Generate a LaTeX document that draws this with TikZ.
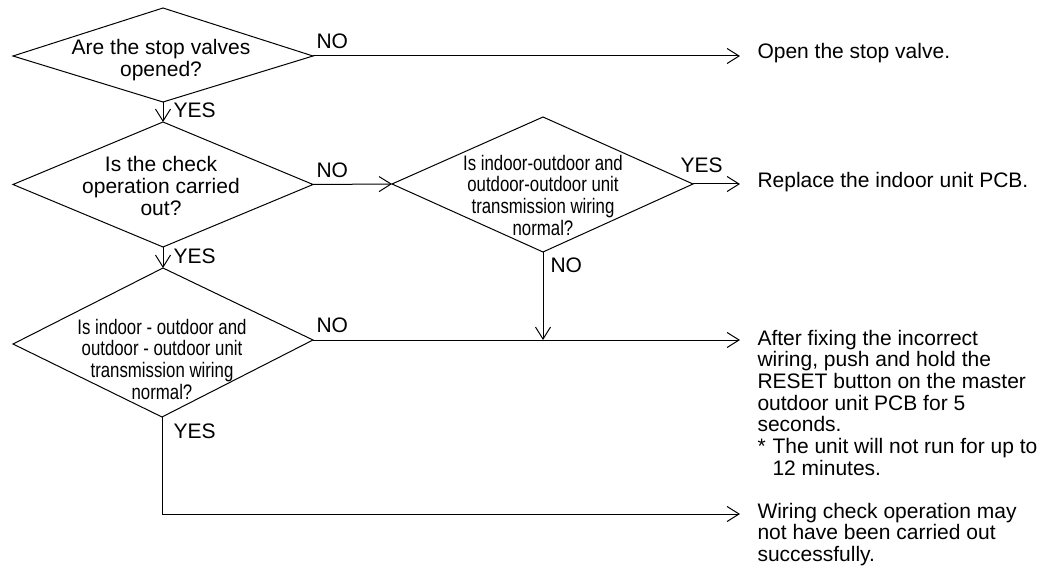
\documentclass[tikz,border=0pt]{standalone}
\usepackage{fontspec}
\setmainfont{Liberation Sans}
\newfontfamily\condfont[FakeStretch=0.8]{Liberation Sans}
\usetikzlibrary{arrows.meta}
\begin{document}
\begin{tikzpicture}[x=1pt,y=-1pt,line width=1pt,line join=miter,
  arr/.style={-{Straight Barb[length=12pt,width=15pt]}},
  lbl/.style={anchor=base west,inner sep=0pt,font=\fontsize{21}{21.7}\selectfont},
  ans/.style={anchor=base west,inner sep=0pt,align=left,font=\fontsize{21}{21.7}\selectfont},
  qtxt/.style={anchor=base,inner sep=0pt,align=center,font=\fontsize{21}{21.7}\selectfont},
  qcond/.style={anchor=base,inner sep=0pt,align=center,font=\condfont\fontsize{21}{21.7}\selectfont}]
\useasboundingbox (0,0) rectangle (1045,567);

% diamond 1
\coordinate (d1l) at (13,56);  \coordinate (d1t) at (163,8);
\coordinate (d1r) at (313,56); \coordinate (d1b) at (163,102);
\draw (d1l) -- (d1t) -- (d1r) -- (d1b) -- cycle;
\node[qtxt] (q1) at (161,76.7) {Are the stop valves\\opened?};

% diamond 2
\coordinate (d2l) at (13,184.5);  \coordinate (d2t) at (163,122);
\coordinate (d2r) at (313,184.5); \coordinate (d2b) at (163,247);
\draw (d2l) -- (d2t) -- (d2r) -- (d2b) -- cycle;
\node[qtxt] (q2) at (161,215.4) {Is the check\\operation carried\\out?};

% diamond 3
\coordinate (d3l) at (13,344);  \coordinate (d3t) at (163,268);
\coordinate (d3r) at (313,340); \coordinate (d3b) at (162,417);
\draw (d3l) -- (d3t) -- (d3r) -- (d3b) -- cycle;
\node[qcond] (q3) at (162,399.1) {Is indoor - outdoor and\\outdoor - outdoor unit\\transmission wiring\\normal?};

% diamond 4
\coordinate (d4l) at (392,184);  \coordinate (d4t) at (543,117);
\coordinate (d4r) at (693,184);  \coordinate (d4b) at (543,252);
\draw (d4l) -- (d4t) -- (d4r) -- (d4b) -- cycle;
\node[qcond] (q4) at (543,235.1) {Is indoor-outdoor and\\outdoor-outdoor unit\\transmission wiring\\normal?};

% answer texts
\coordinate (e1) at (740,56);
\coordinate (e2) at (740,184);
\coordinate (e3) at (740,340);
\coordinate (e4) at (740,514);
\coordinate (j4) at (543,340);
\coordinate (c3) at (162,514);

\node[ans] (a1) at (757,59) {Open the stop valve.};
\node[ans] (a2) at (757,188) {Replace the indoor unit PCB.};
\node[ans] (a3) at (757,475.2) {After fixing the incorrect\\wiring, push and hold the\\RESET button on the master\\outdoor unit PCB for 5\\seconds.\\\makebox[15pt][l]{*}The unit will not run for up to\\\hspace*{15pt}12 minutes.};
\node[ans] (a4) at (757,561.4) {Wiring check operation may\\not have been carried out\\successfully.};

% connectors
\draw[arr] (d1r) -- (e1);
\draw[arr] (d1b) -- (d2t);
\draw[arr] (d2r) -- (d4l);
\draw[arr] (d2b) -- (d3t);
\draw[arr] (d4r) -- (e2);
\draw[arr] (d4b) -- (j4);
\draw[arr] (d3r) -- (e3);
\draw[arr] (d3b) -- (c3) -- (e4);

% labels
\node[lbl] (n1) at (316,49) {NO};
\node[lbl] (y1) at (173,118) {YES};
\node[lbl] (n2) at (316,178) {NO};
\node[lbl] (y2) at (173,263) {YES};
\node[lbl] (n3) at (316,332) {NO};
\node[lbl] (y3) at (173,438) {YES};
\node[lbl] (y4) at (680,173) {YES};
\node[lbl] (n4) at (550,272) {NO};
\end{tikzpicture}
\end{document}
